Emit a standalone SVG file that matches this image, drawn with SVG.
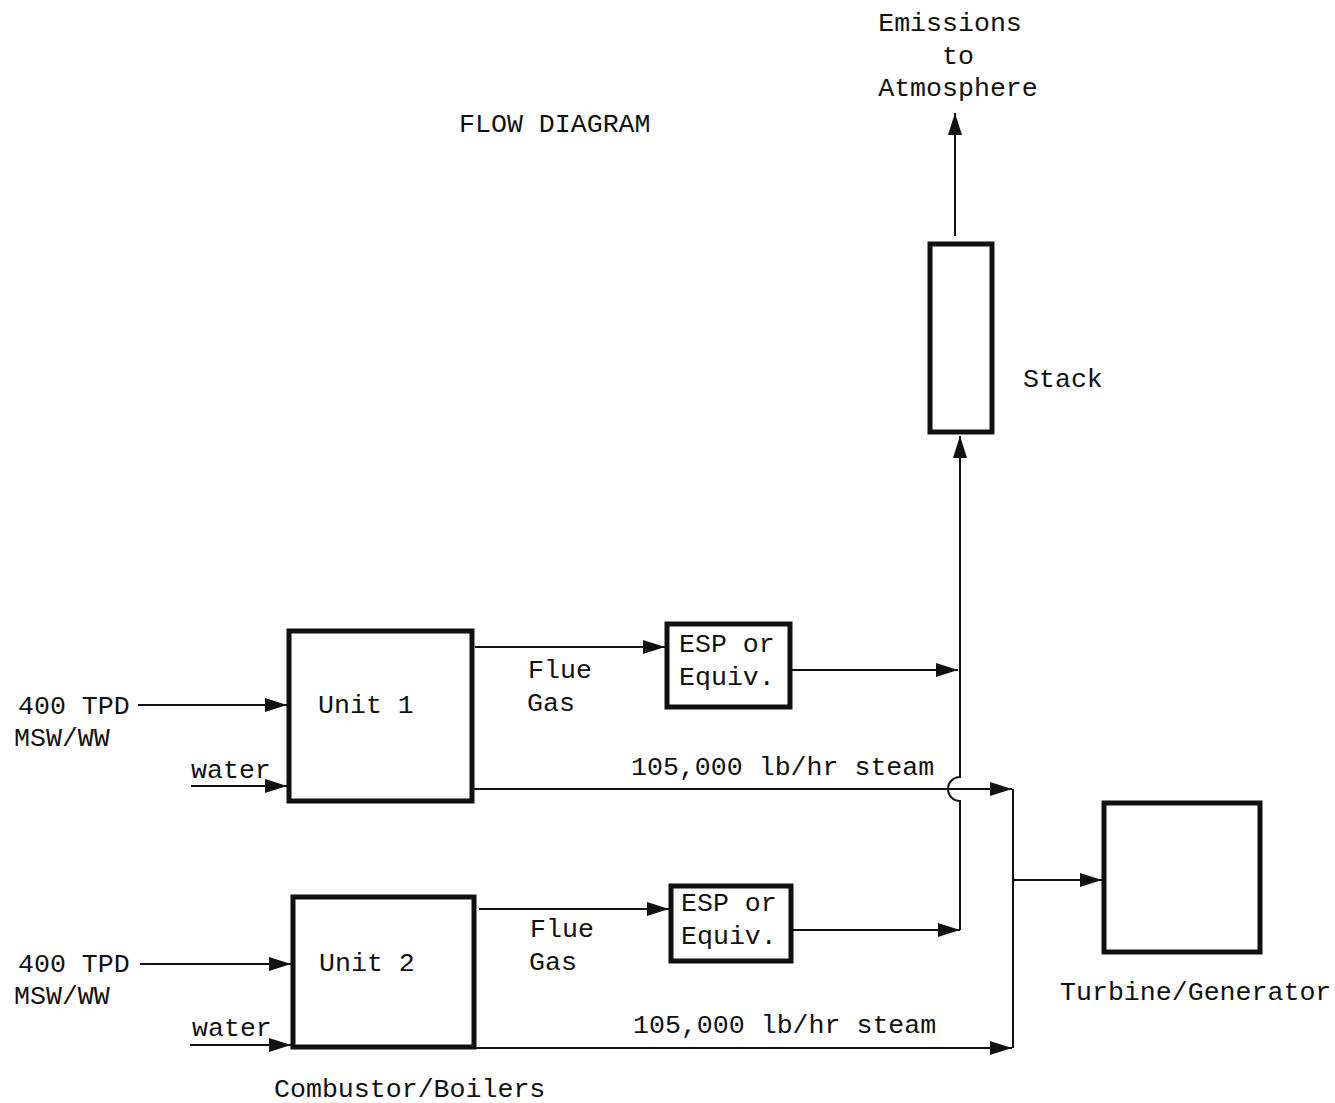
<svg xmlns="http://www.w3.org/2000/svg" width="1335" height="1103" viewBox="0 0 1335 1103">
<style>
text{font-family:"Liberation Mono","DejaVu Sans Mono",monospace;font-size:26.6px;fill:#111}
.box{fill:none;stroke:#111;stroke-width:5}
.ln{fill:none;stroke:#111;stroke-width:2}
.c{text-anchor:middle}
</style>
<defs>
<marker id="ah" markerUnits="userSpaceOnUse" markerWidth="24" markerHeight="16" refX="22" refY="8" orient="auto">
<path d="M0,1 L22,8 L0,15 Z" fill="#111"/>
</marker>
</defs>
<rect width="1335" height="1103" fill="#fff"/>
<text x="459" y="132">FLOW DIAGRAM</text>
<g id="emissions">
<text class="c" x="950" y="31">Emissions</text>
<text class="c" x="958" y="64">to</text>
<text class="c" x="958" y="96">Atmosphere</text>
</g>
<g id="stack">
<rect class="box" x="930" y="244" width="62" height="188"/>
<text x="1023" y="387">Stack</text>
</g>
<g id="unit1">
<rect class="box" x="289" y="631" width="183" height="170"/>
<text x="318" y="713">Unit 1</text>
</g>
<g id="unit2">
<rect class="box" x="293" y="897" width="181" height="150"/>
<text x="319" y="971">Unit 2</text>
</g>
<g id="esp1">
<rect class="box" x="667" y="624" width="123" height="83"/>
<text x="679" y="652">ESP or</text>
<text x="679" y="685">Equiv.</text>
</g>
<g id="esp2">
<rect class="box" x="671" y="886" width="120" height="75"/>
<text x="681" y="911">ESP or</text>
<text x="681" y="944">Equiv.</text>
</g>
<g id="turbine">
<rect class="box" x="1104" y="803" width="156" height="149"/>
<text x="1060" y="1000">Turbine/Generator</text>
</g>
<g id="labels">
<text x="18" y="714">400 TPD</text>
<text x="14" y="746">MSW/WW</text>
<text x="191" y="778">water</text>
<text x="18" y="972">400 TPD</text>
<text x="14" y="1004">MSW/WW</text>
<text x="192" y="1036">water</text>
<text x="528" y="678">Flue</text>
<text x="527" y="711">Gas</text>
<text x="530" y="937">Flue</text>
<text x="529" y="970">Gas</text>
<text x="631" y="775">105,000 lb/hr steam</text>
<text x="633" y="1033">105,000 lb/hr steam</text>
<text x="274" y="1097">Combustor/Boilers</text>
</g>
<g id="connectors">
<line class="ln" x1="955" y1="236" x2="955" y2="113" marker-end="url(#ah)"/>
<path class="ln" d="M960,930 V801 A12,12 0 0 1 960,777 V436" marker-end="url(#ah)"/>
<line class="ln" x1="138" y1="705" x2="287" y2="705" marker-end="url(#ah)"/>
<line class="ln" x1="191" y1="786" x2="287" y2="786" marker-end="url(#ah)"/>
<line class="ln" x1="140" y1="964" x2="291" y2="964" marker-end="url(#ah)"/>
<line class="ln" x1="190" y1="1045" x2="291" y2="1045" marker-end="url(#ah)"/>
<line class="ln" x1="475" y1="647" x2="665" y2="647" marker-end="url(#ah)"/>
<line class="ln" x1="479" y1="909" x2="669" y2="909" marker-end="url(#ah)"/>
<line class="ln" x1="792" y1="670" x2="958" y2="670" marker-end="url(#ah)"/>
<line class="ln" x1="793" y1="930" x2="960" y2="930" marker-end="url(#ah)"/>
<line class="ln" x1="474" y1="789" x2="1012" y2="789" marker-end="url(#ah)"/>
<line class="ln" x1="476" y1="1048" x2="1012" y2="1048" marker-end="url(#ah)"/>
<line class="ln" x1="1013" y1="789" x2="1013" y2="1048"/>
<line class="ln" x1="1013" y1="880" x2="1102" y2="880" marker-end="url(#ah)"/>
</g>
</svg>
